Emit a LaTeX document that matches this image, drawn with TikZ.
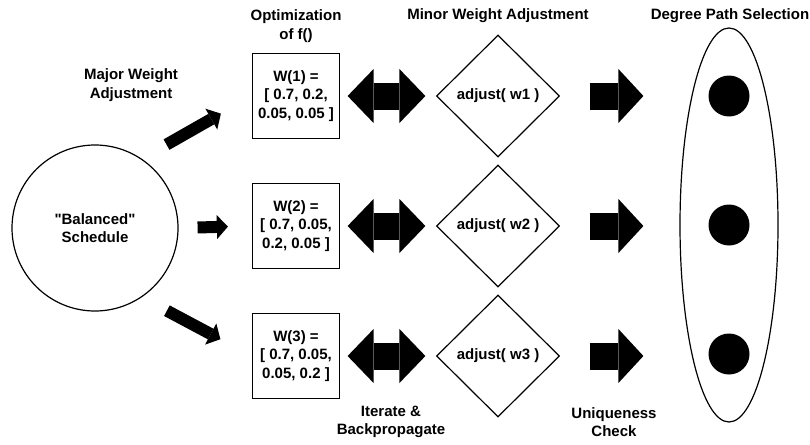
\documentclass[tikz,border=0pt]{standalone}
\usepackage{fontspec}
\setmainfont{Liberation Sans}
\usetikzlibrary{shapes.geometric,arrows.meta}

\begin{document}
\begin{tikzpicture}[x=1pt, y=-1pt, line width=1.2pt,
    font=\bfseries\fontsize{15}{18.5}\selectfont,
    wbox/.style={draw, minimum width=87pt, minimum height=85pt, inner sep=0pt, align=center},
    adj/.style={draw, diamond, minimum width=123pt, minimum height=122pt, inner sep=0pt},
    pathdot/.style={fill, circle, minimum size=41pt, inner sep=0pt},
    smallarrow/.style={line width=12pt, -{Triangle[width=24pt, length=11pt, line width=0pt]}},
    bigarrow/.style={line width=27pt, -{Triangle[width=54pt, length=25pt, line width=0pt]}},
    dblarrow/.style={line width=27pt, {Triangle[width=54pt, length=26pt, line width=0pt]}-{Triangle[width=54pt, length=26pt, line width=0pt]}}]
      \useasboundingbox (0,0) rectangle (810,444);
      \node[draw, circle, minimum size=166pt, inner sep=0pt, align=center] (sched) at (95,228) {\textquotedbl Balanced\textquotedbl\\Schedule};
      \node[wbox] (w1) at (296,96) {W(1) =\\{[} 0.7, 0.2,\\0.05, 0.05 ]};
      \node[wbox] (w2) at (296,226) {W(2) =\\{[} 0.7, 0.05,\\0.2, 0.05 ]};
      \node[wbox] (w3) at (296,356) {W(3) =\\{[} 0.7, 0.05,\\0.05, 0.2 ]};
      \node[adj] (a1) at (498,96) {adjust( w1 )};
      \node[adj] (a2) at (498,226) {adjust( w2 )};
      \node[adj] (a3) at (498,356) {adjust( w3 )};
      \node[draw, ellipse, minimum width=98pt, minimum height=394pt, inner sep=0pt] (sel) at (729,225) {};
      \node[pathdot] (p1) at (729,96) {};
      \node[pathdot] (p2) at (729,225) {};
      \node[pathdot] (p3) at (729,354) {};
      % headings and step labels
      \node[align=center] (major) at (131,85) {Major Weight\\Adjustment};
      \node[align=center] (optim) at (296,26) {Optimization\\of f()};
      \node (minor) at (498,16) {Minor Weight Adjustment};
      \node (degree) at (730,16) {Degree Path Selection};
      \node[align=center] (iter) at (391,422) {Iterate \&\\Backpropagate};
      \node[align=center] (uniq) at (614,422) {Uniqueness\\Check};
      % schedule to weights
      \draw[smallarrow, shorten <=28.5pt, shorten >=35.7pt] (sched.56) -- (w1.west);
      \draw[smallarrow, shorten <=19pt, shorten >=24pt] (sched.east) -- (w2.west);
      \draw[smallarrow, shorten <=28.5pt, shorten >=35.7pt] (sched.-56) -- (w3.west);
      % weights <-> minor adjustment
      \draw[dblarrow, shorten <=7.5pt, shorten >=10.5pt] (w1.east) -- (a1.west);
      \draw[dblarrow, shorten <=7.5pt, shorten >=10.5pt] (w2.east) -- (a2.west);
      \draw[dblarrow, shorten <=7.5pt, shorten >=10.5pt] (w3.east) -- (a3.west);
      % minor adjustment to selected paths
      \draw[bigarrow, shorten <=29.5pt, shorten >=64.5pt] (a1.east) -- (p1.west);
      \draw[bigarrow, shorten <=29.5pt, shorten >=64.5pt] (a2.east) -- (a2.east -| p2.west);
      \draw[bigarrow, shorten <=29.5pt, shorten >=64.5pt] (a3.east) -- (a3.east -| p3.west);
    \end{tikzpicture}
\end{document}
